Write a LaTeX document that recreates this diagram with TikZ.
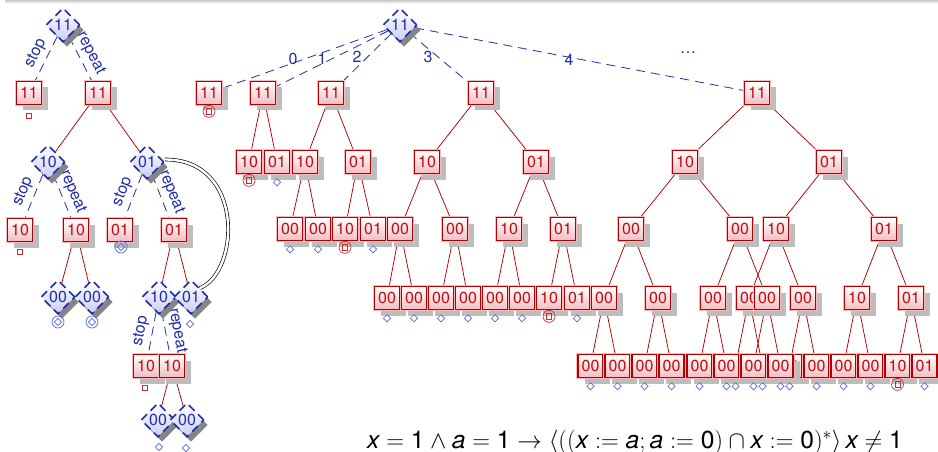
\RequirePackage{fix-cm}
\documentclass[tikz,border=0pt]{standalone}
\usepackage{fontspec}
\setmainfont{TeX Gyre Heros}
\setsansfont{TeX Gyre Heros}
\usetikzlibrary{shapes.geometric,shadows,backgrounds}
\definecolor{rdark}{RGB}{178,0,0}
\definecolor{rtxt}{RGB}{196,10,10}
\definecolor{rpink}{RGB}{240,190,196}
\definecolor{bdark}{RGB}{32,44,168}
\definecolor{bpale}{RGB}{200,206,244}
\definecolor{bsym}{RGB}{88,104,216}
\definecolor{rsym}{RGB}{212,40,40}
\newcommand{\fv}[1]{\mbox{\itshape #1}}
\newcommand{\fn}[1]{\mbox{#1}}
\newcommand{\RB}[4]{\node[rbox] (#1) at (#2,#3) {#4};}
\tikzset{
  rbox/.style={rectangle, draw=rdark, line width=1.7pt,
    drop shadow={shadow xshift=6.5pt, shadow yshift=-6pt, fill=black!26, opacity=1},
    preaction={draw=red!28, line width=3.5pt},
    top color=white, bottom color=rpink, text=rtxt,
    minimum width=25pt, minimum height=23pt, inner sep=0pt,
    font=\fontsize{16}{16}\selectfont},
  dia/.style={diamond, aspect=1, draw=bdark, line width=1.6pt, dash pattern=on 8pt off 5pt,
    drop shadow={shadow xshift=4pt, shadow yshift=-5pt, fill=black!48, opacity=1},
    top color=white, bottom color=bpale, text=bdark,
    minimum size=34pt, inner sep=0pt, font=\fontsize{16}{16}\selectfont},
  redge/.style={draw=rdark, line width=0.75pt},
  bedge/.style={draw=bdark, line width=0.8pt, dash pattern=on 9pt off 6pt},
  slab/.style={text=bdark, font=\fontsize{16}{16}\selectfont, inner sep=4pt, sloped, above},
  nlab/.style={text=bdark, font=\fontsize{16}{16}\selectfont, inner sep=0pt},
  bd/.style={diamond, aspect=1, draw=bsym, line width=0.7pt, minimum size=7.5pt, inner sep=0pt},
  rsq/.style={rectangle, draw=rsym, line width=0.7pt, minimum size=5.5pt, inner sep=0pt},
  csq/.style={circle, draw=rsym, line width=0.7pt, minimum size=12pt, inner sep=0pt,
    path picture={\draw[rsym, line width=0.6pt] ([shift={(-2.6pt,-2.6pt)}]path picture bounding box.center) rectangle ([shift={(2.6pt,2.6pt)}]path picture bounding box.center);}},
  cdi/.style={circle, draw=bsym, line width=0.7pt, minimum size=12pt, inner sep=0pt,
    path picture={\draw[bsym, line width=0.6pt] ([shift={(0pt,3.6pt)}]path picture bounding box.center) -- ([shift={(3.6pt,0pt)}]path picture bounding box.center) -- ([shift={(0pt,-3.6pt)}]path picture bounding box.center) -- ([shift={(-3.6pt,0pt)}]path picture bounding box.center) -- cycle;}},
}
\begin{document}
\begin{tikzpicture}[x=1pt,y=-1pt]
\useasboundingbox (0,0) rectangle (938,452);
\shade[top color=black!22, bottom color=white] (5,0) rectangle (938,3.5);

% ---------- left tree ----------
\node[dia] (L0) at (63,25) {11};
\node[rbox] (L1a) at (29,93) {11};
\node[rbox] (L1b) at (98,93) {11};
\node[dia] (L2a) at (48,162) {10};
\node[dia] (L2b) at (147,162) {01};
\node[rbox] (L3a) at (20,230) {10};
\node[rbox] (L3b) at (76,230) {10};
\node[rbox] (L3c) at (120,230) {01};
\node[rbox] (L3d) at (174,230) {01};
\node[dia] (L4a) at (58,297) {00};
\node[dia] (L4b) at (92,297) {00};
\node[dia] (L4c) at (159,297) {10};
\node[dia] (L4d) at (191,297) {01};
\node[rbox] (L5a) at (146,366) {10};
\node[rbox] (L5b) at (172,366) {10};
\node[dia] (L6a) at (158,420) {00};
\node[dia] (L6b) at (187,420) {00};

\node[rsq] (L1as) at (29,116) {};
\node[rsq] (L3as) at (20,252) {};
\node[cdi] (L3cs) at (121,247) {};
\node[cdi] (L4as) at (58,322) {};
\node[cdi] (L4bs) at (92,322) {};
\node[bd] (L4ds) at (190,324) {};
\node[rsq] (L5as) at (145,388) {};
\node[bd] (L6as) at (159,447) {};
\node[bd] (L6bs) at (186,448) {};

% ---------- main tree ----------
\node[dia] (R) at (400,25) {11};
\RB{A0}{209}{93}{11}
\RB{A1}{263}{93}{11}
\RB{A2}{331}{93}{11}
\RB{A3}{481}{93}{11}
\RB{A4}{757}{93}{11}
\RB{A1a}{249}{162}{10}
\RB{A1b}{277}{162}{01}
\RB{A2a}{305}{162}{10}
\RB{A2b}{358}{162}{01}
\RB{A2aa}{290}{229}{00}
\RB{A2ab}{318}{229}{00}
\RB{A2ba}{345}{229}{10}
\RB{A2bb}{373}{229}{01}
\RB{A3a}{427}{162}{10}
\RB{A3b}{536}{162}{01}
\RB{A3aa}{400}{229}{00}
\RB{A3ab}{455}{229}{00}
\RB{A3ba}{509}{229}{10}
\RB{A3bb}{563}{229}{01}
\RB{A3aaa}{387}{298}{00}
\RB{A3aab}{414}{298}{00}
\RB{A3aba}{441}{298}{00}
\RB{A3abb}{468}{298}{00}
\RB{A3baa}{495}{298}{00}
\RB{A3bab}{522}{298}{00}
\RB{A3bba}{549}{298}{10}
\RB{A3bbb}{577}{298}{01}
\RB{A4a}{685}{162}{10}
\RB{A4b}{829}{162}{01}
\RB{A4aa}{631}{229}{00}
\RB{A4ba}{776}{229}{10}
\RB{A4ab}{740}{229}{00}
\RB{A4bb}{884}{229}{01}
\RB{A4aaa}{604}{298}{00}
\RB{A4aab}{658}{298}{00}
\RB{A4baa}{749}{298}{00}
\RB{A4bab}{803}{298}{00}
\RB{A4aba}{713}{298}{00}
\RB{A4abb}{767}{298}{00}
\RB{A4bba}{857}{298}{10}
\RB{A4bbb}{911}{298}{01}
\RB{A4aaaa}{590.5}{366}{00}
\RB{A4aaab}{617.5}{366}{00}
\RB{A4aaba}{644.5}{366}{00}
\RB{A4aabb}{671.5}{366}{00}
\RB{A4baaa}{735.5}{366}{00}
\RB{A4baab}{762.5}{366}{00}
\RB{A4baba}{789.5}{366}{00}
\RB{A4babb}{816.5}{366}{00}
\RB{A4abaa}{699.5}{366}{00}
\RB{A4abab}{726.5}{366}{00}
\RB{A4abba}{753.5}{366}{00}
\RB{A4abbb}{780.5}{366}{00}
\RB{A4bbaa}{843.5}{366}{00}
\RB{A4bbab}{870.5}{366}{00}
\RB{A4bbba}{897.5}{366}{10}
\RB{A4bbbb}{924.5}{366}{01}

% leaf symbols
\foreach \n in {A1b,A2aa,A2ab,A2bb,A3aaa,A3aab,A3aba,A3abb,A3baa,A3bab,A3bbb,
  A4aaaa,A4aaab,A4aaba,A4aabb,A4baaa,A4baab,A4baba,A4babb,A4abaa,A4abab,A4abba,A4abbb,A4bbaa,A4bbab,A4bbbb}
  \node[bd] (\n-s) at ([yshift=-8pt]\n.south) {};
\foreach \n in {A0,A1a,A2ba,A3bba,A4bbba}
  \node[csq] (\n-s) at ([yshift=-6pt]\n.south) {};

% labels of the root edges
\node[nlab] (l0) at (293,59) {0};
\node[nlab] (l1) at (322,59) {1};
\node[nlab] (l2) at (357,57) {2};
\node[nlab] (l3) at (428,57) {3};
\node[nlab] (l4) at (569,60) {4};
\node[nlab] (ldots) at (688,53) {\dots};

% formula
\node[anchor=base west, inner sep=0pt, font=\fontsize{24.6}{24.6}\selectfont] (F) at (367,448)
 {$\fv{x} = \fn{1} \wedge \fv{a} = \fn{1} \rightarrow \langle((\fv{x} := \fv{a}; \fv{a} := \fn{0}) \cap \fv{x} := \fn{0})^{*}\rangle\, \fv{x} \neq \fn{1}$};

% ---------- connectors ----------
\begin{scope}[on background layer]
\draw[bedge] (L0) -- node[slab] {stop} (L1a);
\draw[bedge] (L0) -- node[slab] {repeat} (L1b);
\draw[bedge] (L2a) -- node[slab] {stop} (L3a);
\draw[bedge] (L2a) -- node[slab] {repeat} (L3b);
\draw[bedge] (L2b) -- node[slab] {stop} (L3c);
\draw[bedge] (L2b) -- node[slab] {repeat} (L3d);
\draw[bedge] (L4c) -- node[slab] {stop} (L5a);
\draw[bedge] (L4c) -- node[slab] {repeat} (L5b);
\foreach \p/\c in {L1b/L2a,L1b/L2b,L3b/L4a,L3b/L4b,L3d/L4c,L3d/L4d,L5b/L6a,L5b/L6b}
  \draw[redge] (\p) -- (\c);
\draw[draw=black, line width=0.65pt, double=white, double distance=2.4pt]
  ([yshift=2.5pt]L2b.east) .. controls (245,159) and (240,272) .. (L4d.north east);
\foreach \c in {A0,A1,A2,A3,A4}
  \draw[bedge] (R) -- (\c);
\foreach \p/\c in {A1/A1a,A1/A1b,A2/A2a,A2/A2b,A2a/A2aa,A2a/A2ab,A2b/A2ba,A2b/A2bb,
  A3/A3a,A3/A3b,A3a/A3aa,A3a/A3ab,A3b/A3ba,A3b/A3bb,
  A3aa/A3aaa,A3aa/A3aab,A3ab/A3aba,A3ab/A3abb,A3ba/A3baa,A3ba/A3bab,A3bb/A3bba,A3bb/A3bbb,
  A4/A4a,A4/A4b,A4a/A4aa,A4a/A4ab,A4b/A4ba,A4b/A4bb,
  A4aa/A4aaa,A4aa/A4aab,A4ab/A4aba,A4ab/A4abb,A4ba/A4baa,A4ba/A4bab,A4bb/A4bba,A4bb/A4bbb,
  A4aaa/A4aaaa,A4aaa/A4aaab,A4aab/A4aaba,A4aab/A4aabb,A4aba/A4abaa,A4aba/A4abab,
  A4abb/A4abba,A4abb/A4abbb,A4baa/A4baaa,A4baa/A4baab,A4bab/A4baba,A4bab/A4babb,
  A4bba/A4bbaa,A4bba/A4bbab,A4bbb/A4bbba,A4bbb/A4bbbb}
  \draw[redge] (\p) -- (\c);
\end{scope}
\end{tikzpicture}
\end{document}
